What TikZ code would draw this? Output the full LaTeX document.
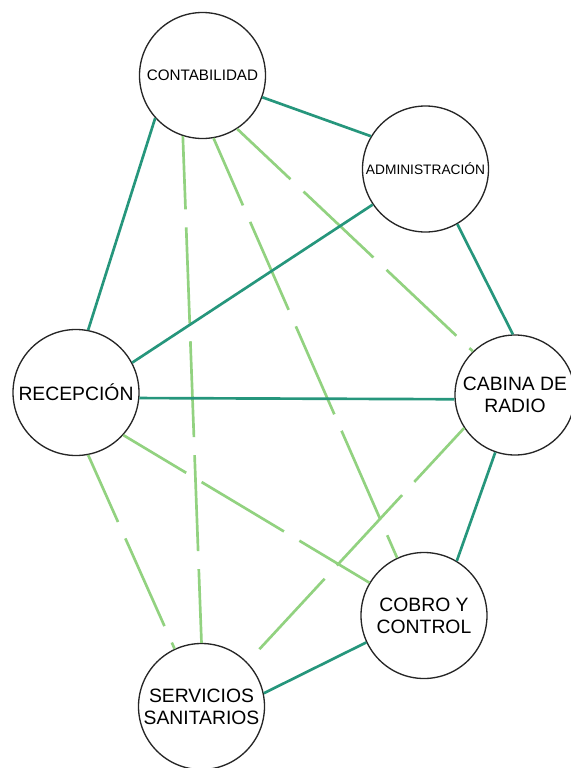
\documentclass[tikz,border=0pt]{standalone}
\usepackage{fontspec}
\setmainfont{Liberation Sans}
\usepackage{xcolor}
\usepackage{tikz}

\definecolor{tealline}{RGB}{38,150,124}
\definecolor{greenline}{RGB}{146,210,128}

\begin{document}
\begin{tikzpicture}[x=0.75pt, y=-0.75pt,
    area/.style={draw=black!85, line width=1pt, circle, fill=white, inner sep=0pt,
      minimum size=94.5pt, align=center, font=\fontsize{14.5}{16.5}\selectfont},
    direct/.style={draw=tealline, line width=2pt},
    indirect/.style={draw=greenline, line width=2pt, dash pattern=on 72pt off 13.5pt, dash phase=17pt}]
            \useasboundingbox (0, 0) rectangle (571, 768);
            \node[area, font=\fontsize{11.4}{13}\selectfont] (cont) at (202.5, 75.5) {CONTABILIDAD};
            \node[area, font=\fontsize{10.3}{12}\selectfont] (admin) at (425.5, 169) {ADMINISTRACIÓN};
            \node[area] (recep) at (76, 392.5) {RECEPCIÓN};
            \node[area, minimum size=90pt] (cabina) at (515, 395) {CABINA DE\\RADIO};
            \node[area] (cobro) at (424, 615.5) {COBRO Y\\CONTROL};
            \node[area] (serv) at (201.5, 706.5) {SERVICIOS\\SANITARIOS};
            \draw[direct] (cont.-20) -- (admin.149);
            \draw[direct] (cont.-138) -- (recep.79);
            \draw[indirect] (cont.-108) -- (serv.90);
            \draw[indirect] (cont.-80) -- (cobro.115);
            \draw[indirect] (cont.-57) -- (cabina.134);
            \draw[direct] (admin.-146) -- (recep.28);
            \draw[direct] (admin.-60) -- (cabina.92);
            \draw[direct] (recep.-5) -- (cabina.-176);
            \draw[indirect] (recep.-42) -- (cobro.149);
            \draw[indirect] (recep.-79) -- (serv.115);
            \draw[indirect] (cabina.-147) -- (serv.44);
            \draw[direct] (cabina.-109) -- (cobro.59);
            \draw[direct] (cobro.-155) -- (serv.12);
          \end{tikzpicture}
\end{document}
